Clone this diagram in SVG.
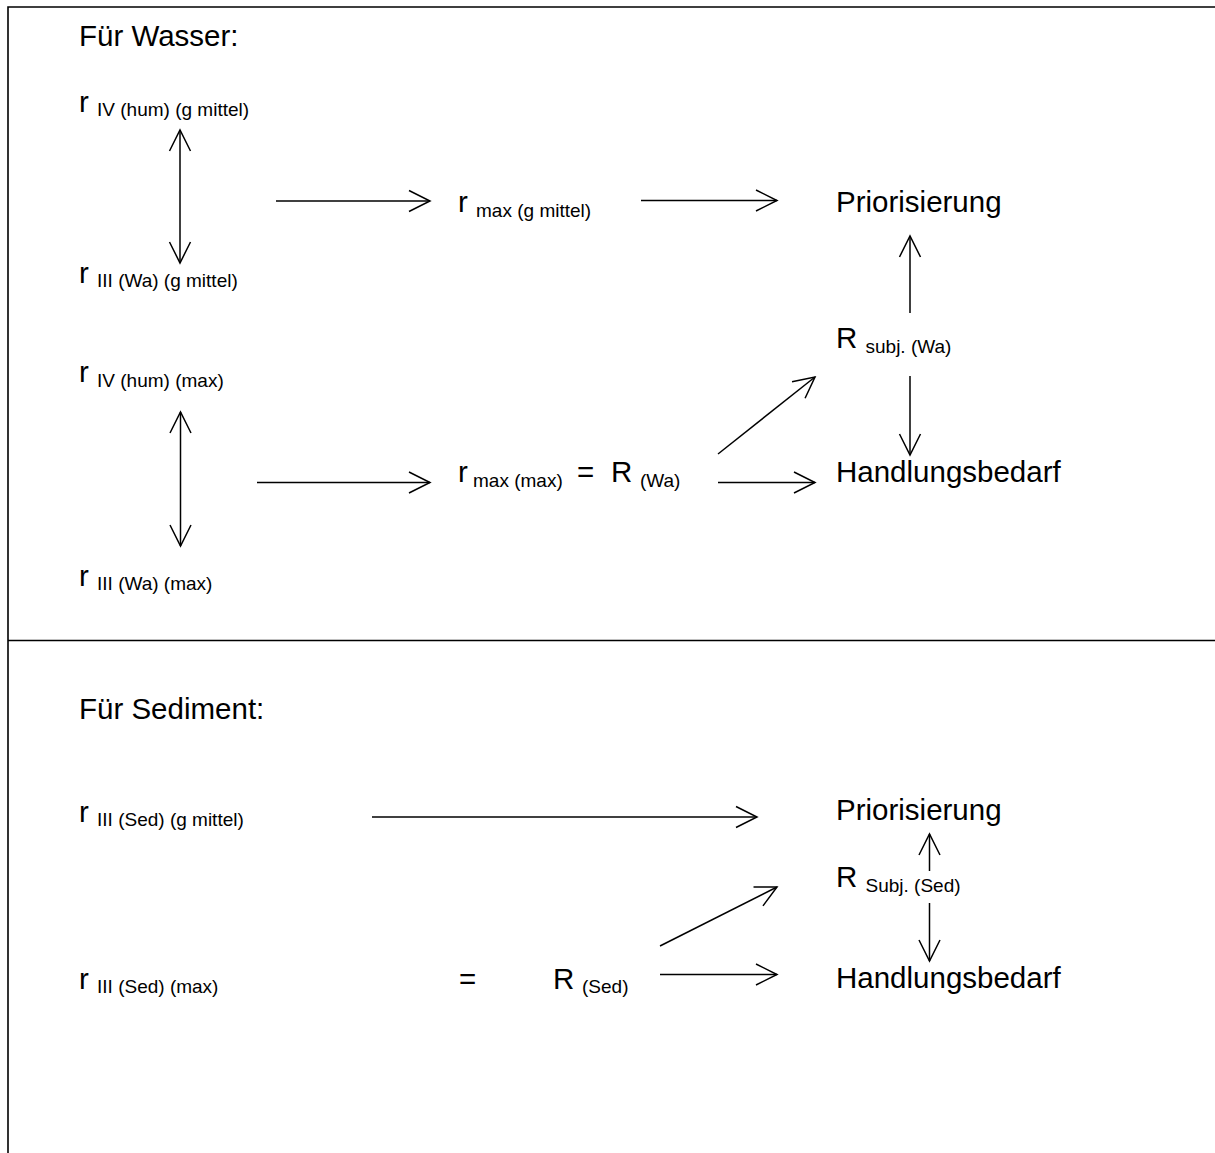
<svg xmlns="http://www.w3.org/2000/svg" width="1215" height="1153" viewBox="0 0 1215 1153">
<style>
text{font-family:"Liberation Sans",Arial,sans-serif;font-size:29.5px;fill:#000}
.sub{font-size:19px}
.frame{stroke:#000;stroke-width:1.6;fill:none}
.c{stroke:#000;stroke-width:1.5;fill:none}
.a{marker-end:url(#ah)}
.d{marker-start:url(#ah);marker-end:url(#ah)}
</style>
<defs>
<marker id="ah" markerUnits="userSpaceOnUse" viewBox="0 0 24 24" refX="22" refY="12" markerWidth="24" markerHeight="24" orient="auto-start-reverse">
<path d="M1,1.5 L22,12 L1,22.5" fill="none" stroke="#000" stroke-width="1.5"/>
</marker>
</defs>
<rect width="1215" height="1153" fill="#fff"/>
<g id="frame">
<path class="frame" d="M8,1153 L8,7 L1215,7"/>
<path class="frame" d="M8,640.5 L1215,640.5"/>
</g>
<g id="connectors">
<path class="c d" d="M180,130 L180,263"/>
<path class="c a" d="M276,201 L430,201"/>
<path class="c a" d="M641,200.5 L777,200.5"/>
<path class="c a" d="M910,313 L910,236"/>
<path class="c a" d="M910,376 L910,455"/>
<path class="c d" d="M180.5,412 L180.5,546"/>
<path class="c a" d="M257,482.5 L430,482.5"/>
<path class="c a" d="M718,454 L815,377"/>
<path class="c a" d="M718,482.5 L815,482.5"/>
<path class="c a" d="M372,817 L757,817"/>
<path class="c a" d="M929.5,871 L929.5,834"/>
<path class="c a" d="M929.5,903 L929.5,961"/>
<path class="c a" d="M660,946 L777,887"/>
<path class="c a" d="M660,974.5 L777,974.5"/>
</g>
<g id="title-wasser"><text x="79" y="46">Für Wasser:</text></g>
<g id="r-iv-hum-g"><text x="79" y="112">r <tspan class="sub" dy="4">IV (hum) (g mittel)</tspan></text></g>
<g id="r-iii-wa-g"><text x="79" y="283">r <tspan class="sub" dy="4">III (Wa) (g mittel)</tspan></text></g>
<g id="r-max-g"><text x="458" y="212">r <tspan class="sub" dy="5">max (g mittel)</tspan></text></g>
<g id="prio-wa"><text x="836" y="212">Priorisierung</text></g>
<g id="r-subj-wa"><text x="836" y="348">R <tspan class="sub" dy="5">subj. (Wa)</tspan></text></g>
<g id="hand-wa"><text x="836" y="482">Handlungsbedarf</text></g>
<g id="r-iv-hum-max"><text x="79" y="382">r <tspan class="sub" dy="5">IV (hum) (max)</tspan></text></g>
<g id="r-iii-wa-max"><text x="79" y="586">r <tspan class="sub" dy="4">III (Wa) (max)</tspan></text></g>
<g id="r-max-max"><text x="458" y="482">r <tspan class="sub" x="473" y="487">max (max)</tspan><tspan x="577" y="482">=</tspan><tspan x="611" y="482">R</tspan><tspan class="sub" x="640" y="487">(Wa)</tspan></text></g>
<g id="title-sediment"><text x="79" y="719">Für Sediment:</text></g>
<g id="r-iii-sed-g"><text x="79" y="822">r <tspan class="sub" dy="4">III (Sed) (g mittel)</tspan></text></g>
<g id="prio-sed"><text x="836" y="820">Priorisierung</text></g>
<g id="r-subj-sed"><text x="836" y="887">R <tspan class="sub" dy="5">Subj. (Sed)</tspan></text></g>
<g id="hand-sed"><text x="836" y="988">Handlungsbedarf</text></g>
<g id="r-iii-sed-max"><text x="79" y="989">r <tspan class="sub" dy="4">III (Sed) (max)</tspan></text></g>
<g id="r-sed"><text x="459" y="989">=<tspan x="553" y="989">R</tspan><tspan class="sub" x="582" y="993">(Sed)</tspan></text></g>
</svg>
